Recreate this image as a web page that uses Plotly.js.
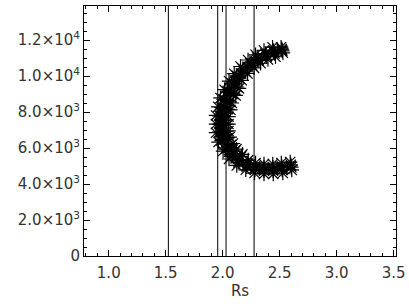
<!DOCTYPE html>
<html>
<head>
<meta charset="utf-8">
<script src="https://cdn.plot.ly/plotly-3.0.1.min.js"></script>
<style>html,body{margin:0;padding:0;background:#fff;}#chart{width:409px;height:307px;}</style>
</head>
<body>
<div id="chart"></div>
<script>
// Crescent-shaped point cloud, read as parallel tracks (inner -> outer)
const trackEX = [2.143, 2.114, 2.081, 2.067, 2.051, 2.051, 2.051, 2.062, 2.090, 2.121, 2.173];
const trackEY = [9310, 8920, 8500, 8120, 7740, 7330, 6950, 6610, 6250, 5940, 5650];
const trackAX = [2.528, 2.463, 2.397, 2.332, 2.275, 2.218, 2.167, 2.125, 2.095, 2.061, 2.045, 2.029, 2.029, 2.029, 2.042, 2.073, 2.108, 2.163, 2.224, 2.288, 2.362, 2.439, 2.514, 2.592];
const trackAY = [11290, 11070, 10920, 10710, 10450, 10140, 9760, 9390, 8990, 8560, 8150, 7750, 7330, 6930, 6560, 6170, 5830, 5530, 5330, 5170, 5110, 5110, 5170, 5220];
const trackBX = [2.523, 2.454, 2.386, 2.317, 2.257, 2.197, 2.146, 2.103, 2.068, 2.034, 2.017, 2.000, 2.000, 2.000, 2.016, 2.050, 2.090, 2.150, 2.217, 2.285, 2.362, 2.440, 2.518, 2.597];
const trackBY = [11390, 11250, 11080, 10860, 10590, 10270, 9880, 9500, 9070, 8630, 8200, 7770, 7330, 6900, 6480, 6060, 5690, 5360, 5150, 4980, 4930, 4930, 4980, 5070];
const trackMX = [2.520, 2.450, 2.380, 2.310, 2.248, 2.187, 2.134, 2.090, 2.055, 2.020, 2.003, 1.985, 1.985, 1.985, 2.003, 2.038, 2.082, 2.143, 2.213, 2.283, 2.362, 2.441, 2.520, 2.599];
const trackMY = [11450, 11330, 11170, 10950, 10670, 10330, 9950, 9560, 9110, 8670, 8220, 7780, 7330, 6890, 6440, 6000, 5610, 5280, 5060, 4890, 4830, 4830, 4890, 5000];
const trackCX = [2.518, 2.446, 2.374, 2.302, 2.239, 2.176, 2.123, 2.078, 2.042, 2.006, 1.988, 1.970, 1.970, 1.970, 1.989, 2.025, 2.073, 2.136, 2.210, 2.282, 2.362, 2.442, 2.522, 2.602];
const trackCY = [11500, 11420, 11250, 11030, 10740, 10400, 10010, 9610, 9160, 8710, 8250, 7790, 7330, 6880, 6410, 5940, 5530, 5200, 4960, 4790, 4740, 4740, 4790, 4930];
const trackDX = [2.512, 2.437, 2.362, 2.288, 2.222, 2.156, 2.101, 2.055, 2.016, 1.980, 1.960, 1.941, 1.941, 1.941, 1.963, 2.003, 2.055, 2.123, 2.202, 2.279, 2.362, 2.443, 2.527, 2.606];
const trackDY = [11600, 11600, 11420, 11180, 10890, 10530, 10130, 9720, 9240, 8780, 8290, 7810, 7330, 6850, 6330, 5830, 5390, 5030, 4790, 4610, 4560, 4560, 4610, 4780];
// Vertical reference lines (Rs)
const vlineX = [1.523, 1.956, 2.029, 2.275];
// Tick labels
const xTickVals = [1.0, 1.5, 2.0, 2.5, 3.0, 3.5];
const xTickText = ['1.0', '1.5', '2.0', '2.5', '3.0', '3.5'];
const yTickVals = [0, 2000, 4000, 6000, 8000, 10000, 12000];
const yTickText = ['0', '2.0×10<sup>3</sup>', '4.0×10<sup>3</sup>', '6.0×10<sup>3</sup>', '8.0×10<sup>3</sup>', '1.0×10<sup>4</sup>', '1.2×10<sup>4</sup>'];

const xRange = [0.783, 3.52];
const yRange = [0, 13890];

const mk = {symbol: 'asterisk-open', size: 12, color: '#000', line: {color: '#000', width: 1.2}};
const traces = [];
vlineX.forEach(v => traces.push({x: [v, v], y: yRange, mode: 'lines', line: {color: '#000', width: 1}, hoverinfo: 'skip', showlegend: false}));
[[trackEX, trackEY], [trackAX, trackAY], [trackBX, trackBY], [trackMX, trackMY], [trackCX, trackCY], [trackDX, trackDY]].forEach(([xs, ys]) =>
  traces.push({x: xs, y: ys, mode: 'markers', marker: mk, showlegend: false}));

const fnt = {family: 'DejaVu Sans', size: 15, color: '#333'};
const axBase = {
  showline: true, linecolor: '#000', linewidth: 1, mirror: 'allticks',
  ticks: 'inside', ticklen: 6, tickcolor: '#000', tickwidth: 1,
  showgrid: false, zeroline: false, tickfont: fnt
};
const layout = {
  width: 409, height: 307,
  margin: {l: 84, r: 13, t: 6, b: 51},
  paper_bgcolor: '#fff', plot_bgcolor: '#fff',
  showlegend: false,
  xaxis: Object.assign({}, axBase, {
    range: xRange, tickmode: 'array', tickvals: xTickVals, ticktext: xTickText,
    ticklabelstandoff: 3,
    minor: {dtick: 0.1, tick0: 0, ticks: 'inside', ticklen: 3, tickcolor: '#000', showgrid: false},
    title: {text: 'Rs', font: fnt, standoff: 1}
  }),
  yaxis: Object.assign({}, axBase, {
    range: yRange, tickmode: 'array', tickvals: yTickVals, ticktext: yTickText,
    minor: {dtick: 500, tick0: 0, ticks: 'inside', ticklen: 3, tickcolor: '#000', showgrid: false}
  })
};
Plotly.newPlot('chart', traces, layout, {staticPlot: true, displayModeBar: false});
</script>
</body>
</html>
